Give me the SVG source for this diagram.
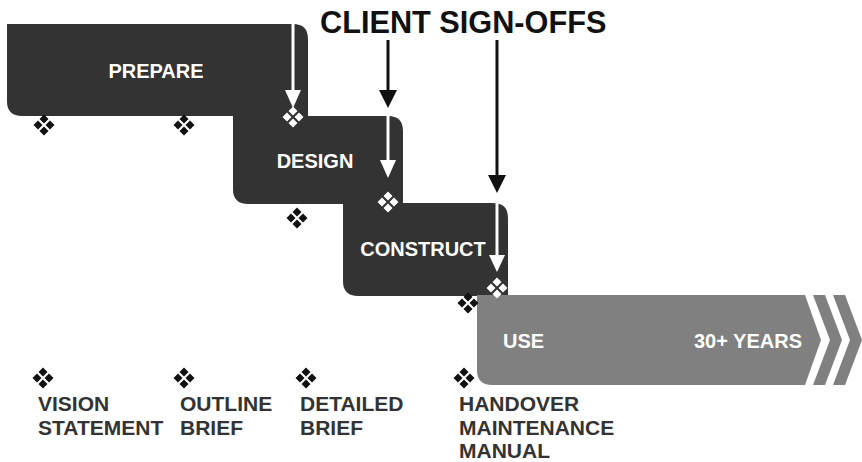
<svg xmlns="http://www.w3.org/2000/svg" xmlns:xlink="http://www.w3.org/1999/xlink" width="862" height="462" viewBox="0 0 862 462">
  <style>
    .phase { fill: #333333; }
    .use { fill: #808080; }
    .lbl { font-family: "Liberation Sans", Arial, sans-serif; font-weight: bold; font-size: 20px; fill: #ffffff; }
    .cap { font-family: "Liberation Sans", Arial, sans-serif; font-weight: bold; font-size: 21px; fill: #333333; }
    .title { font-family: "Liberation Sans", Arial, sans-serif; font-weight: bold; font-size: 30.7px; fill: #111111; }
    .wline { stroke: #ffffff; stroke-width: 3; fill: none; }
    .bline { stroke: #111111; stroke-width: 3; fill: none; }
  </style>
  <defs>
    <symbol id="dia" viewBox="-11 -11 22 22" overflow="visible">
      <path d="M0,-10.5 L4.5,-6 L0,-1.5 L-4.5,-6 Z M-10.5,0 L-6,-4.5 L-1.5,0 L-6,4.5 Z M10.5,0 L6,-4.5 L1.5,0 L6,4.5 Z M0,10.5 L4.5,6 L0,1.5 L-4.5,6 Z"/>
    </symbol>
  </defs>

  <g id="title">
    <text class="title" x="320" y="33">CLIENT SIGN-OFFS</text>
  </g>

  <g id="prepare">
    <path class="phase" d="M7,24 H293 Q308,24 308,39 V116 H22 Q7,116 7,101 Z"/>
    <text class="lbl" x="156" y="78" text-anchor="middle">PREPARE</text>
  </g>

  <g id="design">
    <path class="phase" d="M233,116 H388 Q403,116 403,131 V204 H248 Q233,204 233,189 Z"/>
    <text class="lbl" x="315" y="168" text-anchor="middle">DESIGN</text>
  </g>

  <g id="construct">
    <path class="phase" d="M343,203 H493 Q508,203 508,218 V296 H358 Q343,296 343,281 Z"/>
    <text class="lbl" x="423" y="256" text-anchor="middle" font-size="21">CONSTRUCT</text>
  </g>

  <g id="use">
    <path class="use" d="M477,295 H805 L821,340 L805,385 H492 Q477,385 477,370 Z"/>
    <path class="use" d="M813,295 H825 L842,340 L825,385 H813 L830,340 Z"/>
    <path class="use" d="M833,295 H845 L862,340 L845,385 H833 L850,340 Z"/>
    <text class="lbl" x="503" y="348">USE</text>
    <text class="lbl" x="802" y="348" text-anchor="end">30+ YEARS</text>
  </g>

  <g id="connectors">
    <line class="wline" x1="293" y1="24" x2="293" y2="92"/>
    <path d="M285,90 H301 L293,108 Z" fill="#ffffff"/>
    <line class="wline" x1="388" y1="116" x2="388" y2="162"/>
    <path d="M380,160 H396 L388,178 Z" fill="#ffffff"/>
    <line class="wline" x1="497" y1="203" x2="497" y2="257"/>
    <path d="M489,255 H505 L497,272 Z" fill="#ffffff"/>
    <line class="bline" x1="388" y1="40" x2="388" y2="92"/>
    <path d="M379,90 H397 L388,108 Z" fill="#111111"/>
    <line class="bline" x1="497" y1="40" x2="497" y2="177"/>
    <path d="M488,175 H506 L497,193 Z" fill="#111111"/>
  </g>

  <g id="milestone-markers">
    <use xlink:href="#dia" x="33" y="114" width="22" height="22" fill="#111111"/>
    <use xlink:href="#dia" x="173" y="114" width="22" height="22" fill="#111111"/>
    <use xlink:href="#dia" x="282" y="106" width="22" height="22" fill="#ffffff"/>
    <use xlink:href="#dia" x="286" y="207" width="22" height="22" fill="#111111"/>
    <use xlink:href="#dia" x="377" y="191" width="22" height="22" fill="#ffffff"/>
    <use xlink:href="#dia" x="486" y="277" width="22" height="22" fill="#ffffff"/>
    <use xlink:href="#dia" x="457" y="292" width="22" height="22" fill="#111111"/>
  </g>

  <g id="vision-statement">
    <use xlink:href="#dia" x="32" y="367" width="22" height="22" fill="#111111"/>
    <text class="cap" x="38" y="411">VISION</text>
    <text class="cap" x="38" y="435">STATEMENT</text>
  </g>
  <g id="outline-brief">
    <use xlink:href="#dia" x="173" y="367" width="22" height="22" fill="#111111"/>
    <text class="cap" x="180" y="411">OUTLINE</text>
    <text class="cap" x="180" y="435">BRIEF</text>
  </g>
  <g id="detailed-brief">
    <use xlink:href="#dia" x="295" y="367" width="22" height="22" fill="#111111"/>
    <text class="cap" x="300" y="411">DETAILED</text>
    <text class="cap" x="300" y="435">BRIEF</text>
  </g>
  <g id="handover">
    <use xlink:href="#dia" x="453" y="367" width="22" height="22" fill="#111111"/>
    <text class="cap" x="459" y="411">HANDOVER</text>
    <text class="cap" x="459" y="435">MAINTENANCE</text>
    <text class="cap" x="459" y="458">MANUAL</text>
  </g>
</svg>
